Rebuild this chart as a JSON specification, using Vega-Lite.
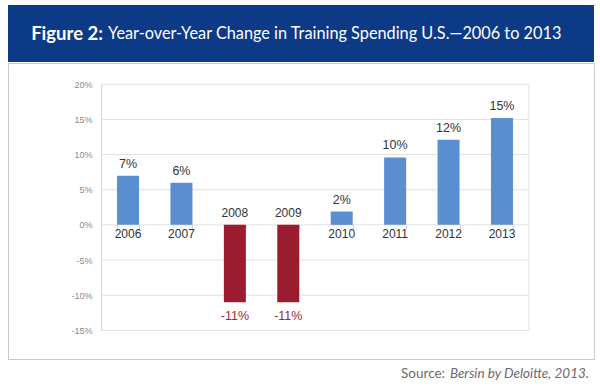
{
  "$schema": "https://vega.github.io/schema/vega-lite/v6.json",
  "padding": {"left": 7, "top": 5, "right": 0, "bottom": 0},
  "background": "white",
  "spacing": 0,
  "datasets": {
    "spend": [
      {"year": "2006", "value": 0.07},
      {"year": "2007", "value": 0.06},
      {"year": "2008", "value": -0.11},
      {"year": "2009", "value": -0.11},
      {"year": "2010", "value": 0.019},
      {"year": "2011", "value": 0.096},
      {"year": "2012", "value": 0.121},
      {"year": "2013", "value": 0.152}
    ],
    "ticks": [
      {"v": -0.15}, {"v": -0.1}, {"v": -0.05}, {"v": 0}, {"v": 0.05}, {"v": 0.1}, {"v": 0.15}, {"v": 0.2}
    ]
  },
  "vconcat": [
    {
      "width": 586,
      "height": 57,
      "view": {"fill": "#0c3a86", "stroke": null},
      "data": {"values": [{"a": "Figure 2:", "b": "Year-over-Year Change in Training Spending U.S.—2006 to 2013"}]},
      "layer": [
        {
          "mark": {"type": "text", "align": "right", "baseline": "middle", "dx": -198, "font": "Lato", "fontSize": 18.5, "fontWeight": "bold", "color": "white"},
          "encoding": {"text": {"field": "a"}}
        },
        {
          "mark": {"type": "text", "align": "left", "baseline": "middle", "dx": -193, "font": "Lato", "fontSize": 16.3, "fontWeight": "normal", "color": "white"},
          "encoding": {"text": {"field": "b"}}
        }
      ]
    },
    {
      "width": 586,
      "height": 296,
      "view": {"fill": "white", "stroke": "#c9c9c9", "strokeWidth": 1},
      "resolve": {"scale": {"x": "independent"}},
      "layer": [
        {
          "data": {"name": "ticks"},
          "layer": [
            {
              "mark": {"type": "rule", "color": "#e0e0e0", "strokeWidth": 1},
              "encoding": {
                "x": {"datum": 0, "type": "quantitative", "scale": {"domain": [0, 1], "range": [93, 521]}, "axis": null},
                "x2": {"datum": 1},
                "y": {"field": "v", "type": "quantitative", "title": null}
              }
            },
            {
              "transform": [{"filter": "datum.v == 0.2"}],
              "mark": {"type": "rule", "color": "#e0e0e0", "strokeWidth": 1},
              "encoding": {
                "x": {"datum": 1, "type": "quantitative", "scale": {"domain": [0, 1], "range": [93, 521]}, "axis": null},
                "y": {"datum": -0.15, "type": "quantitative", "title": null},
                "y2": {"datum": 0.2}
              }
            }
          ]
        },
        {
          "data": {"name": "spend"},
          "layer": [
            {
              "mark": {"type": "bar"},
              "encoding": {
                "x": {
                  "field": "year", "type": "nominal",
                  "scale": {"range": [93, 521], "paddingInner": 0.588, "paddingOuter": 0.3},
                  "axis": {"orient": "bottom", "offset": -134.4, "labels": false, "domain": false, "ticks": true, "tickBand": "extent", "tickSize": 4, "tickColor": "#cfcfcf", "grid": false, "title": null}
                },
                "y": {
                  "field": "value", "type": "quantitative",
                  "scale": {"domain": [-0.15, 0.2], "range": [267.3, 21.3], "nice": false, "zero": false},
                  "axis": {"orient": "left", "offset": -93, "values": [-0.15, -0.1, -0.05, 0, 0.05, 0.1, 0.15, 0.2], "format": ".0%", "grid": false, "ticks": false, "domain": true, "domainColor": "#d6d6d6", "labelColor": "#8a8a8a", "labelFont": "Liberation Sans", "labelFontSize": 9, "labelPadding": 9, "title": null}
                },
                "color": {"condition": {"test": "datum.value < 0", "value": "#9b1c2f"}, "value": "#5b8ed0"}
              }
            },
            {
              "transform": [{"filter": "datum.value >= 0"}],
              "mark": {"type": "text", "baseline": "alphabetic", "dy": -8, "font": "Liberation Sans", "fontSize": 12.5, "color": "#333333"},
              "encoding": {
                "x": {"field": "year", "type": "nominal"},
                "y": {"field": "value", "type": "quantitative", "title": null},
                "text": {"field": "value", "format": ".0%"}
              }
            },
            {
              "transform": [{"filter": "datum.value < 0"}],
              "mark": {"type": "text", "baseline": "top", "dy": 8, "font": "Liberation Sans", "fontSize": 12.5, "color": "#9b2a3a"},
              "encoding": {
                "x": {"field": "year", "type": "nominal"},
                "y": {"field": "value", "type": "quantitative", "title": null},
                "text": {"field": "value", "format": ".0%"}
              }
            },
            {
              "transform": [{"filter": "datum.value >= 0"}],
              "mark": {"type": "text", "baseline": "top", "dy": 4, "font": "Liberation Sans", "fontSize": 12, "color": "#333333"},
              "encoding": {
                "x": {"field": "year", "type": "nominal"},
                "y": {"datum": 0, "type": "quantitative", "title": null},
                "text": {"field": "year"}
              }
            },
            {
              "transform": [{"filter": "datum.value < 0"}],
              "mark": {"type": "text", "baseline": "alphabetic", "dy": -8, "font": "Liberation Sans", "fontSize": 12, "color": "#333333"},
              "encoding": {
                "x": {"field": "year", "type": "nominal"},
                "y": {"datum": 0, "type": "quantitative", "title": null},
                "text": {"field": "year"}
              }
            }
          ]
        }
      ]
    },
    {
      "width": 586,
      "height": 26,
      "view": {"stroke": null},
      "data": {"values": [{"s": "Source:", "r": "Bersin by Deloitte, 2013."}]},
      "layer": [
        {
          "mark": {"type": "text", "align": "right", "baseline": "alphabetic", "dx": -5, "dy": 5, "font": "Lato", "fontSize": 13.5, "fontStyle": "italic", "color": "#6b6b6b"},
          "encoding": {
            "x": {"datum": 1, "type": "quantitative", "scale": {"domain": [0, 1]}, "axis": null},
            "text": {"field": "r"}
          }
        },
        {
          "mark": {"type": "text", "align": "right", "baseline": "alphabetic", "dx": -149, "dy": 5, "font": "Lato", "fontSize": 13.5, "color": "#6b6b6b"},
          "encoding": {
            "x": {"datum": 1, "type": "quantitative", "scale": {"domain": [0, 1]}, "axis": null},
            "text": {"field": "s"}
          }
        }
      ]
    }
  ],
  "config": {
    "locale": {"number": {"decimal": ".", "thousands": ",", "grouping": [3], "currency": ["$", ""], "minus": "-"}},
    "axis": {"labelFont": "Liberation Sans"}
  }
}
